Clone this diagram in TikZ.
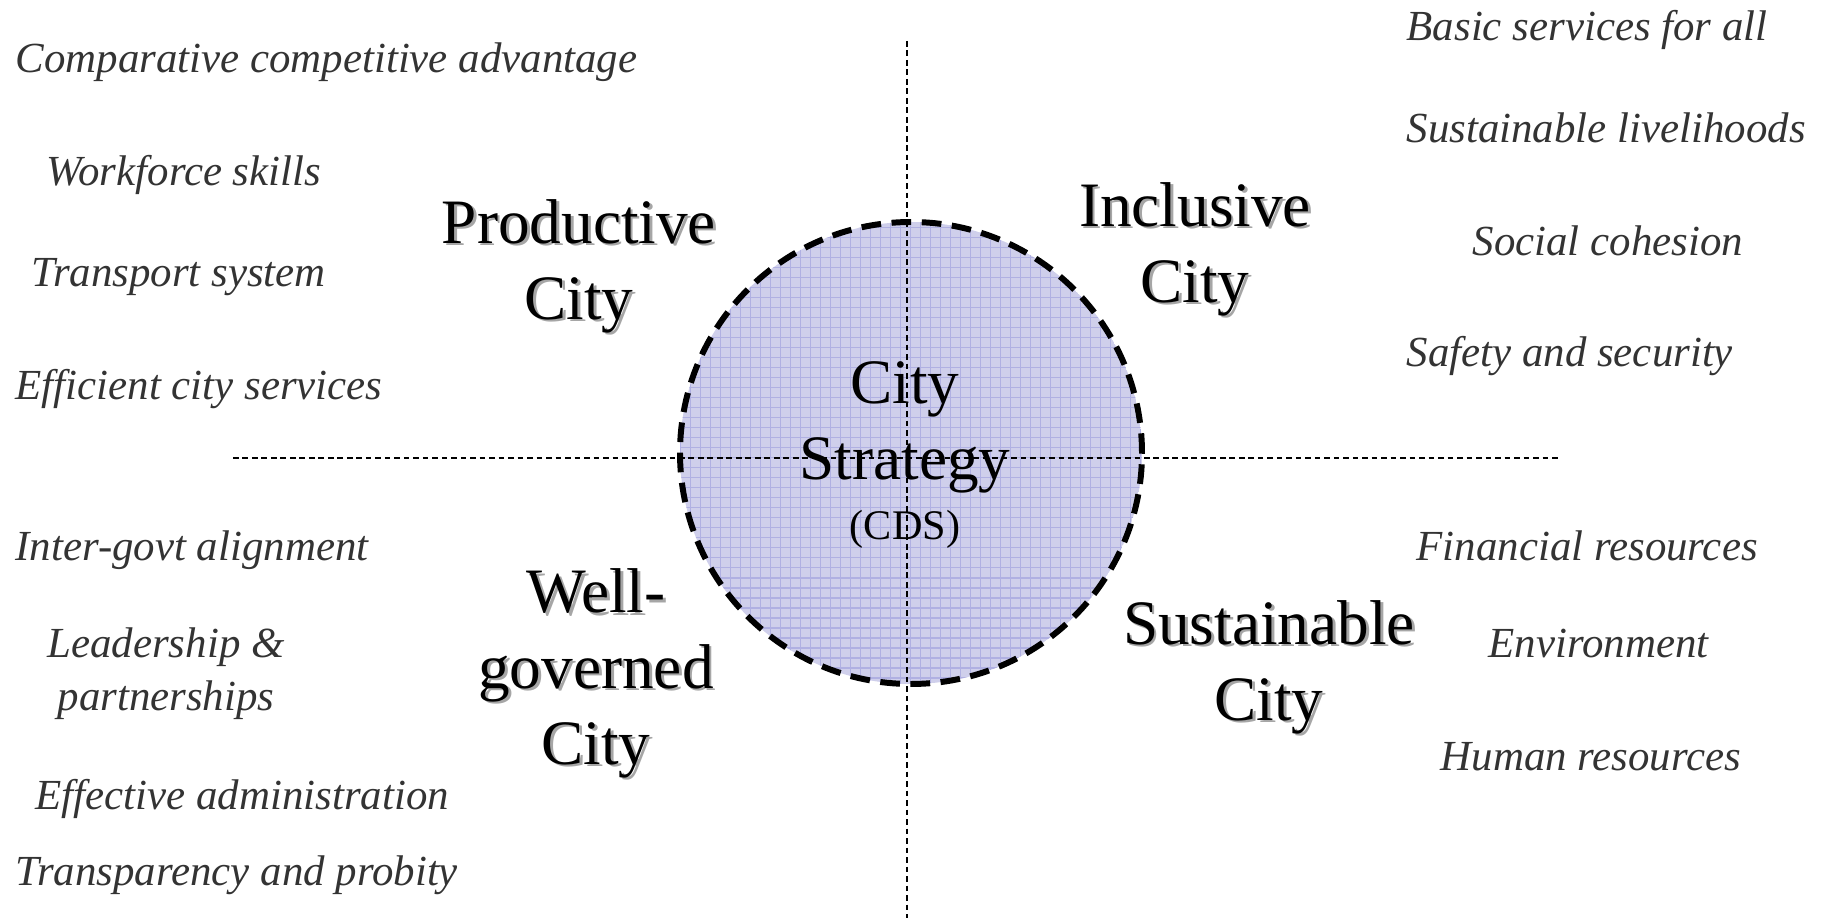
\documentclass[tikz,border=0pt]{standalone}
\usepackage{fontspec}
\setmainfont{LiberationSerif}[Extension=.ttf, UprightFont=*-Regular, BoldFont=*-Bold, ItalicFont=*-Italic, BoldItalicFont=*-BoldItalic]
\definecolor{lavender}{HTML}{CFCFEB}
\definecolor{gridblue}{HTML}{B0B0E2}
\tikzset{
  aim/.style={font=\fontsize{12.2}{15}\selectfont\itshape, text=black!80, inner sep=0pt},
  title/.style={font=\fontsize{18}{21.6}\selectfont, align=center, inner sep=0pt},
  axis/.style={line width=0.5pt, dash pattern=on 1.6pt off 1.1pt},
  rim/.style={line width=1.7pt, dash pattern=on 5.6pt off 3pt}
}
\newcommand{\citylabel}[3]{%
  \node[title, text=black!35, xshift=0.8pt, yshift=-0.8pt] (#1-sh) at (#2) {#3};
  \node[title] (#1) at (#2) {#3};}

\begin{document}
\begin{tikzpicture}
\useasboundingbox (0,0) rectangle (18.24,9.18);
\coordinate (c) at (9.11,4.65);
\coordinate (vtop) at (9.07,8.77);
\coordinate (vbot) at (9.07,0);
\coordinate (hleft) at (2.33,4.60);
\coordinate (hright) at (15.59,4.60);

% strategy circle
\begin{scope}
\clip (c) circle (2.31);
\fill[lavender] (c) circle (2.31);
\draw[gridblue, line width=0.3pt, step=0.1] (6.7,2.2) grid (11.5,7.1);
\end{scope}
\draw [axis] (vtop) -- (vbot);
\draw [axis] (hleft) -- (hright);
\draw [rim] (c) circle (2.31);
\node [title] (cds) at (9.05,4.63) {City\\Strategy\\[-4.5pt]{\fontsize{12}{14}\selectfont (CDS)}};

\citylabel{prod}{5.79,6.52}{Productive\\City}
\citylabel{incl}{11.95,6.69}{Inclusive\\City}
\citylabel{well}{5.96,2.45}{Well-\\governed\\City}
\citylabel{sust}{12.69,2.51}{Sustainable\\City}

% productive / well-governed
\node [aim, anchor=west] (comp) at (0.15,8.56) {Comparative competitive advantage};
\node [aim, anchor=west] (work) at (0.46,7.43) {Workforce skills};
\node [aim, anchor=west] (trans) at (0.31,6.41) {Transport system};
\node [aim, anchor=west] (effic) at (0.15,5.29) {Efficient city services};
\node [aim, anchor=west] (inter) at (0.15,3.68) {Inter-govt alignment};
\node [aim, align=center] (lead) at (1.66,2.44) {Leadership \&\\partnerships};
\node [aim, anchor=west] (admin) at (0.35,1.19) {Effective administration};
\node [aim, anchor=west] (probity) at (0.15,0.43) {Transparency and probity};

% inclusive / sustainable
\node [aim, anchor=west] (basic) at (14.06,8.88) {Basic services for all};
\node [aim, anchor=west] (livel) at (14.06,7.90) {Sustainable livelihoods};
\node [aim, anchor=west] (cohes) at (14.72,6.77) {Social cohesion};
\node [aim, anchor=west] (safety) at (14.06,5.62) {Safety and security};
\node [aim, anchor=west] (finance) at (14.16,3.72) {Financial resources};
\node [aim, anchor=west] (env) at (14.88,2.74) {Environment};
\node [aim, anchor=west] (human) at (14.40,1.61) {Human resources};
\end{tikzpicture}
\end{document}
